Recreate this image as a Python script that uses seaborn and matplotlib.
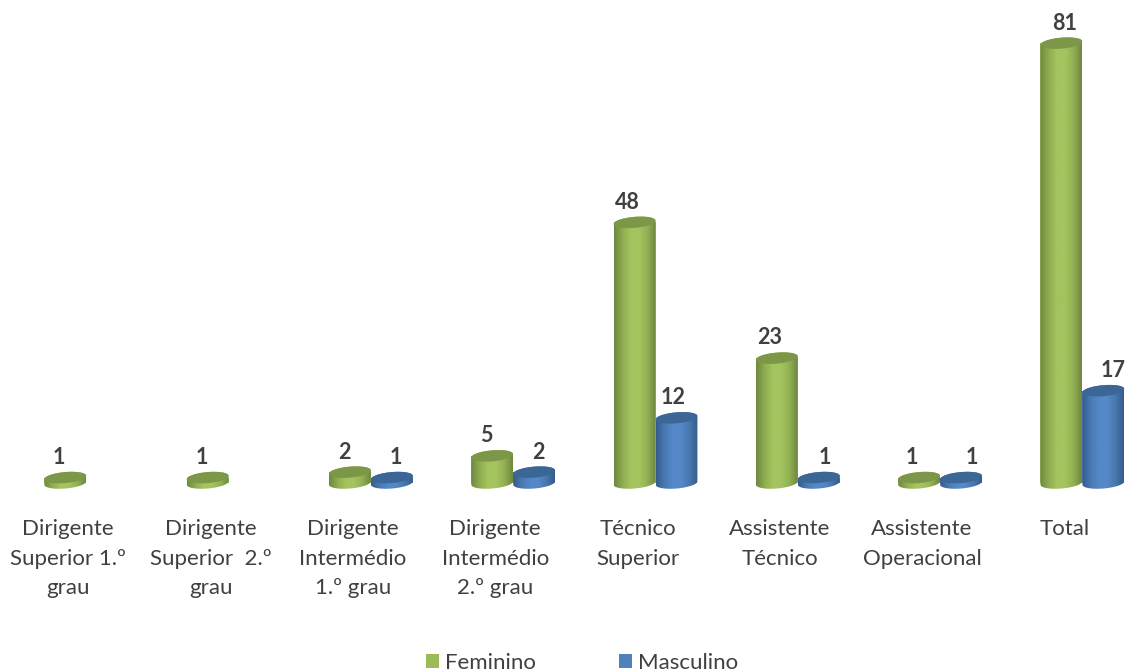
import numpy as np
import pandas as pd
import seaborn as sns
import matplotlib
matplotlib.use("Agg")
import matplotlib.pyplot as plt
from matplotlib.colors import LinearSegmentedColormap
from matplotlib.patches import Polygon
from matplotlib.path import Path
from matplotlib.transforms import IdentityTransform, ScaledTranslation

categories = ["Dirigente\nSuperior 1.º\ngrau", "Dirigente\nSuperior  2.º\ngrau",
              "Dirigente\nIntermédio\n1.º grau", "Dirigente\nIntermédio\n2.º grau",
              "Técnico\nSuperior", "Assistente\nTécnico",
              "Assistente\nOperacional", "Total"]
feminino = [1, 1, 2, 5, 48, 23, 1, 81]
masculino = [np.nan, np.nan, 1, 2, 12, 1, 1, 17]
series_names = ["Feminino", "Masculino"]

# label nudges in pixels (the source labels do not sit exactly over the bars)
nudge_f = [-6, -6, -6, -6, -7, -7, -7, 3]
nudge_m = [0, 0, 4, 4, -3, 6, 11, 10]

W, H = 1126, 671
BASE_PX = 483
PX_PER_UNIT = 5.43
GROUP0_PX = 86.3
PITCH_PX = 142.3

sns.set_theme(style="white")
plt.rcParams["font.family"] = ["Lato", "DejaVu Sans"]

df = pd.DataFrame({
    "cat": categories * 2,
    "serie": [series_names[0]] * 8 + [series_names[1]] * 8,
    "valor": feminino + masculino,
})

fig = plt.figure(figsize=(W / 100, H / 100), dpi=100, facecolor="white")
ax = fig.add_axes([0, (H - BASE_PX) / H, 1, BASE_PX / H])
palette = {"Feminino": "#9BBB59", "Masculino": "#4F81BD"}
sns.barplot(data=df, x="cat", y="valor", hue="serie", palette=palette,
            width=0.59, gap=0, saturation=1, ax=ax, legend=True, linewidth=0)

xlim = (-GROUP0_PX / PITCH_PX, (W - GROUP0_PX) / PITCH_PX)
ylim = (0, BASE_PX / PX_PER_UNIT)
ax.set_xlim(*xlim)
ax.set_ylim(*ylim)
ax.set_xlabel("")
ax.set_ylabel("")
ax.set_yticks([])
sns.despine(ax=ax, left=True, bottom=True)
ax.tick_params(axis="x", length=0, pad=26)
ax.patch.set_alpha(0)

shift = ScaledTranslation(-18 / 100, 0, fig.dpi_scale_trans)
for lab in ax.get_xticklabels():
    lab.set_fontsize(16)
    lab.set_color("#404040")
    lab.set_linespacing(1.6)
    lab.set_verticalalignment("top")
    lab.set_transform(lab.get_transform() + shift)

body_cmaps = [
    LinearSegmentedColormap.from_list("g", ["#6F8840", "#8FAD50", "#A3C45E", "#A3C45E", "#93B153", "#6F8840"]),
    LinearSegmentedColormap.from_list("b", ["#355C8C", "#4A79B2", "#5488C8", "#5488C8", "#4878AE", "#355C8C"]),
]
top_colors = ["#7C9747", "#3B6696"]
TILT = np.deg2rad(5)
B_PX = 5.5


def arc(cx, cy, a, t0, t1, n=40):
    t = np.linspace(t0, t1, n)
    x = cx + a * np.cos(t) * np.cos(TILT) - B_PX * np.sin(t) * np.sin(TILT)
    y = cy + a * np.cos(t) * np.sin(TILT) + B_PX * np.sin(t) * np.cos(TILT)
    return np.column_stack([x, y])


ident = IdentityTransform()
for s, (container, vals, nudges) in enumerate(zip(ax.containers[:2], [feminino, masculino], [nudge_f, nudge_m])):
    # seaborn only draws bars for the values that exist
    present = [(v, dx) for v, dx in zip(vals, nudges) if np.isfinite(v)]
    for bar, (v, dx) in zip(container.patches, present):
        (x0, y0), (x1, y1) = ax.transData.transform(
            [(bar.get_x(), 0), (bar.get_x() + bar.get_width(), bar.get_height())])
        a = (x1 - x0) / 2
        cx = (x0 + x1) / 2
        low = arc(cx, y0, a, np.pi, 2 * np.pi)
        up = arc(cx, y1, a, 0, np.pi)
        sil = Path(np.vstack([low, up, low[:1]]), closed=True)
        im = ax.imshow(np.linspace(0, 1, 64)[None, :], cmap=body_cmaps[s], aspect="auto", zorder=3 + s,
                       extent=(bar.get_x(), bar.get_x() + bar.get_width(), -3, v + 3),
                       interpolation="bilinear")
        im.set_clip_box(fig.bbox)
        im.set_clip_path(sil, ident)
        ax.add_patch(Polygon(arc(cx, y1, a, 0, 2 * np.pi), closed=True, transform=ident,
                             facecolor=top_colors[s], edgecolor="none", zorder=3.5 + s, clip_on=False))
        ax.annotate(f"{int(v)}", xy=(cx, y1), xycoords=ident, xytext=(dx * 0.72, 14.5),
                    textcoords="offset points", ha="center", va="center",
                    fontsize=15.5, fontweight="bold", color="#404040", zorder=6,
                    annotation_clip=False)

ax.set_xlim(*xlim)
ax.set_ylim(*ylim)

sns.move_legend(ax, "lower left", bbox_to_anchor=(426 / W, -0.004 - (H - BASE_PX) / BASE_PX * 1.0),
                bbox_transform=ax.transAxes, ncol=2, frameon=False, title=None,
                fontsize=16, handlelength=0.58, handleheight=0.58, handletextpad=0.28,
                columnspacing=3.72, borderaxespad=0, borderpad=0)
leg = ax.get_legend()
for t in leg.get_texts():
    t.set_color("#404040")

fig.savefig("out.png", dpi=100, facecolor="white")
